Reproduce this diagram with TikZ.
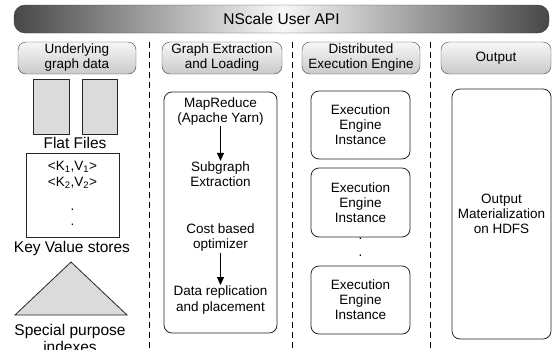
\documentclass[tikz,border=0pt]{standalone}
\usepackage{fontspec}
\setmainfont{Liberation Sans}
\usetikzlibrary{arrows.meta}

\tikzset{
  banner/.style={draw=black!75, rounded corners=11pt, left color=black!72, right color=black!72, middle color=gray!6, font=\fontsize{15.5}{18}\selectfont},
  hdr/.style={draw=black!75, rounded corners=8pt, top color=gray!6, bottom color=gray!42, align=center, font=\fontsize{13.5}{15}\selectfont, inner sep=0pt, minimum height=32},
  txt/.style={align=center, font=\fontsize{13.5}{15}\selectfont, inner sep=1pt},
  bigtxt/.style={align=center, font=\fontsize{15.5}{17}\selectfont, inner sep=0pt},
  unit/.style={draw=black!85, rounded corners=8pt, line width=0.8pt},
  sep/.style={line width=1pt, dash pattern=on 6pt off 4pt},
  flow/.style={-{Triangle[width=7pt,length=8pt]}, line width=1.2pt},
  blob/.style={draw=black!85, fill=gray!28, line width=0.8pt}
}

\begin{document}
\begin{tikzpicture}[x=1pt,y=-1pt]
    \clip (0,0) rectangle (553,349);

    \node[banner, minimum width=535, minimum height=28] (api) at (281.5,19) {NScale User API};

    \node[hdr, minimum width=118] (h1) at (77,58) {Underlying\\graph data};
    \node[hdr, minimum width=120] (h2) at (222,58) {Graph Extraction\\and Loading};
    \node[hdr, minimum width=118] (h3) at (361,58) {Distributed\\Execution Engine};
    \node[hdr, minimum width=110] (h4) at (496,58) {Output};

    \coordinate (s1) at (149,42);
    \coordinate (s2) at (292,42);
    \coordinate (s3) at (430,42);
    \draw[sep] (s1) -- (s1 |- 0,349);
    \draw[sep] (s2) -- (s2 |- 0,349);
    \draw[sep] (s3) -- (s3 |- 0,349);

    \draw[blob] (33,79) rectangle (69,134);
    \draw[blob] (82,79) rectangle (117,134);
    \node[bigtxt] (flat) at (75,143) {Flat Files};

    \draw[line width=0.8pt, draw=black!85] (26,153) rectangle (119,237);
    \node[txt] (kv1) at (72.5,167) {<K\textsubscript{1},V\textsubscript{1}>};
    \node[txt] (kv2) at (72.5,183) {<K\textsubscript{2},V\textsubscript{2}>};
    \node[txt] (d1) at (72.5,210) {.};
    \node[txt] (d2) at (72.5,225) {.};
    \node[bigtxt] (kvs) at (72,248) {Key Value stores};

    \draw[blob] (15,315) -- (127,315) -- (71,262) -- cycle;
    \node[bigtxt] (spi) at (70,338.5) {Special purpose\\indexes};

    \draw[unit] (164,92) rectangle (277,333);
    \node[txt] (mr) at (220.5,111.5) {MapReduce\\(Apache Yarn)};
    \node[txt] (sub) at (220.5,174.5) {Subgraph\\Extraction};
    \node[txt] (cost) at (220.5,237.5) {Cost based\\optimizer};
    \node[txt] (rep) at (220.5,300) {Data replication\\and placement};
    \draw[flow] (mr) -- (sub);
    \draw[flow] (cost) -- (rep);

    \node[unit, txt, minimum width=99, minimum height=68] (e1) at (360.5,125) {Execution\\Engine\\Instance};
    \node[unit, txt, minimum width=99, minimum height=69] (e2) at (360.5,202.5) {Execution\\Engine\\Instance};
    \node[txt] (d3) at (360.5,239) {.};
    \node[txt] (d4) at (360.5,256) {.};
    \node[unit, txt, minimum width=99, minimum height=68] (e3) at (360.5,300) {Execution\\Engine\\Instance};

    \node[unit, txt, minimum width=99, minimum height=250] (out) at (501.5,214) {Output\\Materialization\\on HDFS};
\end{tikzpicture}
\end{document}
